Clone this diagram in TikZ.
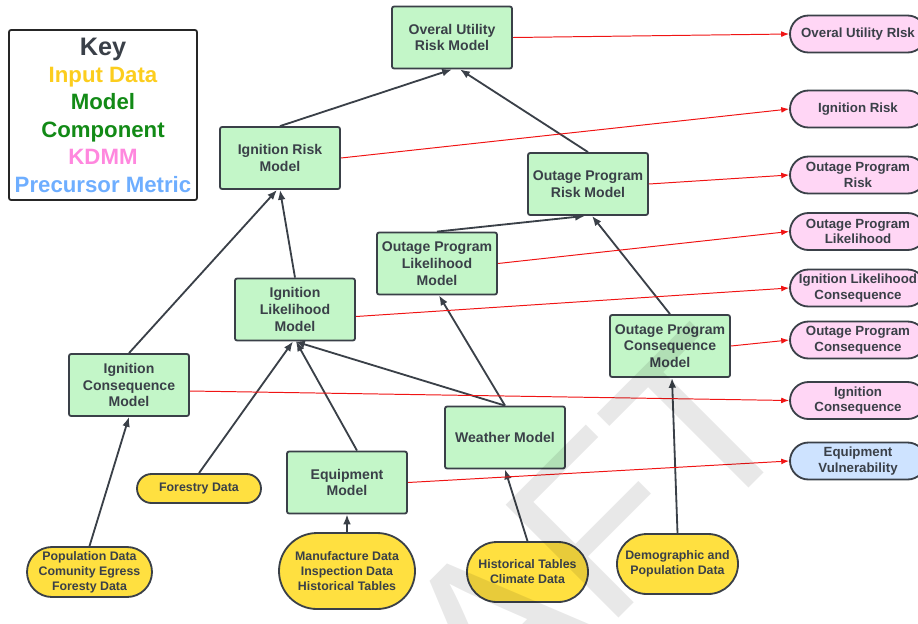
\documentclass[tikz,border=0pt]{standalone}
\usepackage{fontspec}
\setmainfont{Liberation Sans}
\usetikzlibrary{shapes.misc,arrows.meta}
\pgfdeclarelayer{bg}
\pgfdeclarelayer{fg}
\pgfsetlayers{bg,main,fg}
\definecolor{ink}{RGB}{58,64,72}
\definecolor{modelfill}{RGB}{195,246,200}
\definecolor{kdmmfill}{RGB}{255,214,245}
\definecolor{metricfill}{RGB}{206,227,255}
\definecolor{datafill}{RGB}{255,224,64}
\definecolor{keyyellow}{RGB}{252,205,30}
\definecolor{keygreen}{RGB}{18,138,22}
\definecolor{keypink}{RGB}{255,135,222}
\definecolor{keyblue}{RGB}{110,174,255}
\definecolor{linkred}{RGB}{240,20,20}
\tikzset{
    every node/.style={draw=ink, line width=1.3pt, text=ink, align=center, inner sep=0mm, font=\bfseries}
}
\tikzset{
    keybox/.style={rectangle, rounded corners=1.5pt, draw=black!85, minimum width=4.7cm, minimum height=4.25cm, font=\bfseries\fontsize{15.8}{19.5}\selectfont},
    model/.style={rectangle, rounded corners=1.5pt, fill=modelfill, minimum width=3cm, minimum height=1.55cm, font=\bfseries\fontsize{10}{11.9}\selectfont},
    kdmm/.style={rounded rectangle, fill=kdmmfill, minimum width=3.4cm, minimum height=0.925cm, font=\bfseries\fontsize{9.45}{11.2}\selectfont},
    metric/.style={kdmm, fill=metricfill},
    indata/.style={rounded rectangle, fill=datafill, font=\bfseries\fontsize{8.8}{10.7}\selectfont},
    feeds/.style={draw=ink, line width=1.3pt, -{Latex[length=7pt,width=5.5pt]}},
    maps/.style={draw=linkred, line width=0.7pt, -{Latex[length=5.6pt,width=4.2pt]}}
}

\begin{document}
\begin{tikzpicture}
        \useasboundingbox (0cm, 0cm) rectangle (22.950000cm, -15.575000cm);
        \node (key) [keybox] at (2.575000cm, -2.875000cm) {{\fontsize{18}{19.5}\selectfont Key}\\
\textcolor{keyyellow}{Input Data}\\ \textcolor{keygreen}{Model}\\ \textcolor{keygreen}{Component}\\
\textcolor{keypink}{KDMM}\\ \textcolor{keyblue}{Precursor Metric}};
        \node (m0) [model] at (11.300000cm, -0.937500cm) {Overal Utility\\Risk Model};
        \node (m1) [model] at (7.000000cm, -3.950000cm) {Ignition Risk\\Model};
        \node (m2) [model] at (14.700000cm, -4.600000cm) {Outage Program\\Risk Model};
        \node (m3) [model] at (10.925000cm, -6.587500cm) {Outage Program\\Likelihood\\Model};
        \node (m4) [model] at (7.375000cm, -7.737500cm) {Ignition\\Likelihood\\Model};
        \node (m5) [model] at (3.225000cm, -9.625000cm) {Ignition\\Consequence\\Model};
        \node (m6) [model] at (16.750000cm, -8.650000cm) {Outage Program\\Consequence\\Model};
        \node (m7) [model] at (12.625000cm, -10.937500cm) {Weather Model};
        \node (m8) [model] at (8.675000cm, -12.062500cm) {Equipment\\Model};
        \node (k0) [kdmm] at (21.450000cm, -0.850000cm) {Overal Utility RIsk};
        \node (k1) [kdmm] at (21.450000cm, -2.725000cm) {Ignition Risk};
        \node (k2) [kdmm] at (21.450000cm, -4.375000cm) {Outage Program\\Risk};
        \node (k3) [kdmm] at (21.450000cm, -5.787500cm) {Outage Program\\Likelihood};
        \node (k4) [kdmm] at (21.450000cm, -7.200000cm) {Ignition Likelihood\\Consequence};
        \node (k5) [kdmm] at (21.450000cm, -8.500000cm) {Outage Program\\Consequence};
        \node (k6) [kdmm] at (21.450000cm, -10.012500cm) {Ignition\\Consequence};
        \node (k7) [metric] at (21.450000cm, -11.525000cm) {Equipment\\Vulnerability};
        \node (d0) [indata, minimum width=3.125cm, minimum height=1.25cm] at (2.237500cm, -14.300000cm) {Population Data\\Comunity Egress\\Foresty Data};
        \node (d1) [indata, minimum width=3.1cm, minimum height=0.725cm] at (4.975000cm, -12.212500cm) {Forestry Data};
        \node (d2) [indata, minimum width=3.4cm, minimum height=1.9cm] at (8.675000cm, -14.275000cm) {Manufacture Data\\Inspection Data\\Historical Tables};
        \node (d3) [indata, minimum width=3.025cm, minimum height=1.5cm] at (13.187500cm, -14.300000cm) {Historical Tables\\Climate Data};
        \node (d4) [indata, minimum width=3.025cm, minimum height=1.5cm] at (16.937500cm, -14.100000cm) {Demographic and\\Population Data};
        \begin{pgfonlayer}{bg}
                \draw (m1.north) edge [feeds] (m0.south);
                \draw (m2.north) edge [feeds] ([xshift=0.2cm]m0.south);
                \draw (m4.north) edge [feeds] (m1.south);
                \draw (m5.north) edge [feeds] ([xshift=-0.075cm]m1.south);
                \draw (m3.north) edge [feeds] ([xshift=-0.075cm]m2.south);
                \draw (m6.north) edge [feeds] ([xshift=0.1cm]m2.south);
                \draw (m7.north) edge [feeds] ([xshift=0.05cm]m3.south);
                \draw (m7.north) edge [feeds] (m4.south);
                \draw (d1.north) edge [feeds] ([xshift=-0.05cm]m4.south);
                \draw ([xshift=0.25cm]m8.north) edge [feeds] ([xshift=0.025cm]m4.south);
                \draw (d0.north) edge [feeds] (m5.south);
                \draw (d2.north) edge [feeds] (m8.south);
                \draw (d3.north) edge [feeds] (m7.south);
                \draw (d4.north) edge [feeds] ([xshift=0.05cm]m6.south);
                \draw (m0.east) edge [maps] (k0.west);
                \draw (m1.east) edge [maps] (k1.west);
                \draw (m2.east) edge [maps] (k2.west);
                \draw (m3.east) edge [maps] (k3.west);
                \draw ([yshift=-0.175cm]m4.east) edge [maps] (k4.west);
                \draw (m6.east) edge [maps] (k5.west);
                \draw ([yshift=-0.15cm]m5.east) edge [maps] (k6.west);
                \draw (m8.east) edge [maps] (k7.west);
        \end{pgfonlayer}
        \begin{pgfonlayer}{fg}
                \clip (0cm, 0cm) rectangle (22.950000cm, -15.575000cm);
                \node (mark) [draw=none, rotate=45, anchor=base east, text=black, text opacity=0.09, font=\fontsize{165}{165}\selectfont] at (20.175000cm, -10.750000cm) {AFT};
        \end{pgfonlayer}
\end{tikzpicture}
\end{document}
